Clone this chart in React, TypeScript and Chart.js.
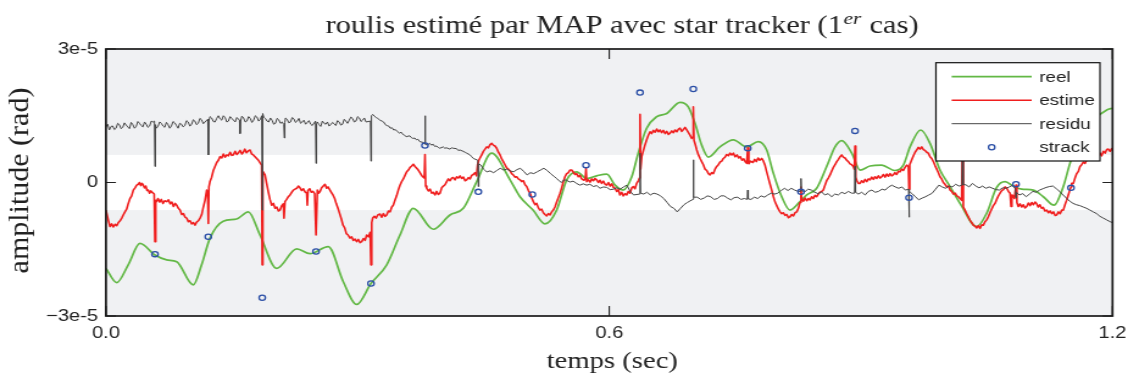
import { useEffect, useRef } from 'react';
import { Chart, registerables } from 'chart.js';

Chart.register(...registerables);

// Time in seconds, amplitudes in units of 1e-5 rad.
const reel: [number, number][] = [
  [0.0, -1.93], [0.0128, -2.25], [0.0265, -1.85], [0.0405, -1.37], [0.0584, -1.63], [0.0724, -1.74],
  [0.0843, -1.78], [0.1041, -2.3], [0.114, -1.85], [0.124, -1.25], [0.1398, -0.87], [0.1558, -0.82],
  [0.1697, -0.66], [0.1836, -1.18], [0.2035, -1.93], [0.2274, -1.49], [0.2432, -1.6], [0.265, -1.44],
  [0.2829, -2.23], [0.2989, -2.74], [0.3159, -2.27], [0.3347, -1.85], [0.3505, -1.18], [0.3664, -0.58],
  [0.3902, -1.05], [0.4101, -0.73], [0.426, -0.58], [0.442, 0.02], [0.4598, 0.66], [0.4817, 0.06],
  [0.4936, -0.32], [0.5091, -0.62], [0.5234, -0.93], [0.5373, -0.62], [0.5493, 0.06], [0.5612, 0.24],
  [0.5731, 0.09], [0.585, 0.15], [0.597, 0.19], [0.6069, -0.06], [0.6167, -0.17], [0.6268, 0.13],
  [0.6346, 0.66], [0.6446, 1.22], [0.6566, 1.48], [0.6685, 1.55], [0.6844, 1.8], [0.6942, 1.7],
  [0.7022, 1.33], [0.7102, 0.84], [0.7181, 0.57], [0.732, 0.8], [0.7479, 0.96], [0.7639, 0.8],
  [0.7777, 0.92], [0.7877, 0.73], [0.7956, 0.21], [0.8056, -0.32], [0.8155, -0.62], [0.8274, -0.43],
  [0.8354, -0.28], [0.8473, -0.13], [0.8592, 0.36], [0.8692, 0.8], [0.8771, 0.94], [0.8891, 0.66],
  [0.899, 0.28], [0.9109, 0.37], [0.9248, 0.39], [0.9407, 0.27], [0.9506, 0.39], [0.9586, 0.8],
  [0.9713, 1.18], [0.9824, 0.88], [0.9943, 0.28], [1.0063, -0.09], [1.0182, -0.47], [1.0381, -0.99],
  [1.05, -0.69], [1.0619, -0.11], [1.0718, 0.02], [1.0817, -0.08], [1.0917, -0.15], [1.1056, -0.17],
  [1.1175, -0.32], [1.1303, -0.51], [1.1413, -0.09], [1.1493, 0.43], [1.1612, 1.04], [1.1771, 1.4],
  [1.1931, 1.63], [1.2, 1.67],
];

const estime: [number, number][] = [
  [0.0, -0.62], [0.0008, -0.69], [0.0028, -0.85], [0.0048, -0.99], [0.0068, -0.93], [0.0088, -1.0],
  [0.0108, -0.94], [0.0128, -0.97], [0.0148, -0.9], [0.0168, -0.86], [0.0188, -0.8], [0.0206, -0.73],
  [0.0226, -0.66], [0.0246, -0.6], [0.0266, -0.47], [0.0286, -0.36], [0.0306, -0.3], [0.0326, -0.17],
  [0.0346, -0.12], [0.0366, -0.06], [0.0385, -0.04], [0.04, 0.0], [0.0415, -0.07], [0.043, -0.02],
  [0.0445, -0.06], [0.046, -0.12], [0.0475, -0.08], [0.049, -0.18], [0.0504, -0.17], [0.052, -0.24],
  [0.0535, -0.19], [0.0545, -0.21], [0.0575, -0.26], [0.0584, -1.33], [0.0593, -0.4], [0.0604, -0.43],
  [0.062, -0.36], [0.064, -0.44], [0.066, -0.38], [0.068, -0.47], [0.07, -0.41], [0.0724, -0.43],
  [0.0745, -0.39], [0.0765, -0.48], [0.0785, -0.44], [0.0805, -0.54], [0.0825, -0.47], [0.0843, -0.51],
  [0.0863, -0.58], [0.0883, -0.62], [0.0903, -0.72], [0.0923, -0.7], [0.0943, -0.78], [0.0962, -0.8],
  [0.0982, -0.88], [0.1002, -0.86], [0.1022, -0.93], [0.1042, -0.9], [0.1061, -0.96], [0.1081, -0.89],
  [0.1101, -0.86], [0.1121, -0.8], [0.1141, -0.72], [0.1161, -0.55], [0.1181, -0.4], [0.1201, -0.17],
  [0.1213, -0.28], [0.122, -0.92], [0.1227, -0.1], [0.124, 0.02], [0.126, 0.12], [0.128, 0.27],
  [0.13, 0.36], [0.132, 0.45], [0.134, 0.5], [0.1359, 0.58], [0.138, 0.55], [0.14, 0.64],
  [0.142, 0.57], [0.144, 0.62], [0.146, 0.6], [0.148, 0.68], [0.15, 0.61], [0.1518, 0.62],
  [0.154, 0.7], [0.156, 0.63], [0.158, 0.67], [0.16, 0.72], [0.162, 0.64], [0.1637, 0.68],
  [0.1655, 0.75], [0.1675, 0.67], [0.1695, 0.71], [0.1717, 0.73], [0.1737, 0.64], [0.1757, 0.62],
  [0.1777, 0.58], [0.1797, 0.54], [0.1817, 0.5], [0.1837, 0.44], [0.1856, 0.39], [0.1863, -1.85],
  [0.187, 0.25], [0.1896, 0.17], [0.1915, -0.02], [0.1935, -0.21], [0.1955, -0.38], [0.1976, -0.51],
  [0.1996, -0.47], [0.2016, -0.58], [0.2036, -0.55], [0.2056, -0.64], [0.2075, -0.62], [0.2095, -0.52],
  [0.2115, -0.48], [0.2122, -0.8], [0.2134, -0.43], [0.2154, -0.38], [0.2174, -0.32], [0.2194, -0.28],
  [0.2214, -0.22], [0.2234, -0.17], [0.2254, -0.15], [0.2274, -0.13], [0.2293, -0.08], [0.2313, -0.12],
  [0.2333, -0.18], [0.2353, -0.14], [0.2373, -0.21], [0.2393, -0.24], [0.24, -0.51], [0.2408, -0.18],
  [0.2428, -0.14], [0.2448, -0.22], [0.2468, -0.2], [0.2488, -0.25], [0.2504, -1.18], [0.252, -0.17],
  [0.2535, -0.24], [0.2551, -0.21], [0.2571, -0.12], [0.2591, -0.08], [0.2611, -0.04], [0.263, -0.13],
  [0.2647, -0.1], [0.2667, -0.16], [0.2686, -0.22], [0.2706, -0.28], [0.2726, -0.36], [0.2746, -0.48],
  [0.2766, -0.58], [0.2786, -0.7], [0.2806, -0.82], [0.2826, -0.96], [0.2846, -1.02], [0.2866, -1.15],
  [0.2886, -1.18], [0.2909, -1.25], [0.2929, -1.22], [0.2949, -1.3], [0.2969, -1.27], [0.2989, -1.33],
  [0.3009, -1.28], [0.3029, -1.35], [0.3049, -1.33], [0.3069, -1.26], [0.3089, -1.3], [0.3108, -1.18],
  [0.313, -1.22], [0.315, -1.12], [0.3159, -1.85], [0.3168, -0.9], [0.318, -0.8], [0.32, -0.76],
  [0.322, -0.8], [0.324, -0.73], [0.3267, -0.71], [0.3287, -0.78], [0.3307, -0.7], [0.3327, -0.76],
  [0.3347, -0.73], [0.3367, -0.64], [0.3387, -0.66], [0.3407, -0.55], [0.3425, -0.51], [0.3445, -0.4],
  [0.3465, -0.3], [0.3485, -0.17], [0.3505, -0.06], [0.3525, 0.02], [0.3545, 0.08], [0.3565, 0.16],
  [0.3585, 0.24], [0.3605, 0.28], [0.3625, 0.34], [0.3645, 0.37], [0.3664, 0.41], [0.3684, 0.36],
  [0.3704, 0.32], [0.3723, 0.28], [0.3743, 0.22], [0.3763, 0.16], [0.3776, 0.13], [0.3795, 0.1],
  [0.3803, 0.63], [0.3811, -0.08], [0.3824, -0.13], [0.3844, -0.19], [0.3864, -0.15], [0.3884, -0.24],
  [0.3902, -0.22], [0.3922, -0.28], [0.3942, -0.2], [0.3962, -0.27], [0.3982, -0.24], [0.4002, -0.12],
  [0.4022, -0.08], [0.4042, -0.05], [0.4062, 0.02], [0.4082, 0.08], [0.4102, 0.04], [0.4122, 0.1],
  [0.4141, 0.11], [0.4161, 0.06], [0.4181, 0.13], [0.4201, 0.1], [0.4221, 0.15], [0.4241, 0.09],
  [0.4261, 0.12], [0.4281, 0.04], [0.43, 0.06], [0.432, 0.11], [0.434, 0.08], [0.436, 0.16],
  [0.4379, 0.18], [0.4399, 0.22], [0.4417, 0.15], [0.443, 0.4], [0.4445, 0.5], [0.4459, 0.55],
  [0.4479, 0.62], [0.4499, 0.7], [0.4519, 0.75], [0.4539, 0.8], [0.4559, 0.78], [0.4579, 0.85],
  [0.4598, 0.88], [0.4618, 0.84], [0.4638, 0.82], [0.4658, 0.77], [0.4678, 0.68], [0.4698, 0.62],
  [0.4718, 0.53], [0.4737, 0.47], [0.4757, 0.4], [0.4777, 0.33], [0.4797, 0.3], [0.4817, 0.26],
  [0.4837, 0.2], [0.4856, 0.17], [0.4876, 0.12], [0.4896, 0.13], [0.4916, 0.08], [0.4936, 0.06],
  [0.4956, 0.02], [0.4976, 0.04], [0.4996, -0.05], [0.5016, -0.09], [0.5036, -0.18], [0.5056, -0.24],
  [0.5076, -0.35], [0.5095, -0.43], [0.5115, -0.5], [0.5135, -0.47], [0.5155, -0.57], [0.5174, -0.62],
  [0.5194, -0.6], [0.5214, -0.68], [0.5234, -0.72], [0.5254, -0.75], [0.5274, -0.7], [0.5294, -0.73],
  [0.5314, -0.66], [0.5333, -0.62], [0.5353, -0.55], [0.5373, -0.44], [0.5393, -0.34], [0.5413, -0.24],
  [0.5433, -0.12], [0.5453, 0.02], [0.5472, 0.13], [0.5492, 0.2], [0.5512, 0.22], [0.5532, 0.28],
  [0.5552, 0.28], [0.5572, 0.23], [0.5592, 0.18], [0.5612, 0.2], [0.5631, 0.13], [0.5651, 0.16],
  [0.5671, 0.08], [0.5699, 0.05], [0.5715, 0.09], [0.5723, 0.32], [0.5731, 0.02], [0.5751, 0.06],
  [0.5771, 0.01], [0.5791, 0.08], [0.5811, 0.04], [0.5831, 0.09], [0.585, 0.06], [0.587, 0.0],
  [0.589, 0.05], [0.591, -0.02], [0.593, 0.03], [0.595, -0.04], [0.597, -0.06], [0.599, 0.0],
  [0.601, -0.08], [0.603, -0.03], [0.605, -0.11], [0.6069, -0.13], [0.6089, -0.2], [0.6109, -0.16],
  [0.6128, -0.28], [0.6148, -0.22], [0.6168, -0.3], [0.6188, -0.25], [0.6208, -0.28], [0.6228, -0.2],
  [0.6248, -0.24], [0.6268, -0.12], [0.6287, -0.09], [0.6307, -0.14], [0.6327, -0.02], [0.635, 0.05],
  [0.636, 0.1], [0.6367, 1.53], [0.6374, 0.3], [0.6387, 0.58], [0.6407, 0.72], [0.6427, 0.85],
  [0.6446, 0.96], [0.6466, 1.06], [0.6486, 1.14], [0.6506, 1.1], [0.6526, 1.17], [0.6546, 1.13],
  [0.6566, 1.2], [0.6586, 1.14], [0.6605, 1.18], [0.6625, 1.12], [0.6645, 1.17], [0.6665, 1.1],
  [0.6685, 1.15], [0.6705, 1.08], [0.6725, 1.11], [0.6745, 1.16], [0.6765, 1.12], [0.6785, 1.18],
  [0.6805, 1.14], [0.6825, 1.2], [0.6844, 1.22], [0.6864, 1.15], [0.6884, 1.19], [0.6904, 1.24],
  [0.6924, 1.18], [0.6944, 1.12], [0.6964, 1.06], [0.6983, 0.99], [0.6995, 1.02], [0.7002, 1.7],
  [0.701, 0.95], [0.7025, 0.86], [0.7043, 0.73], [0.7063, 0.62], [0.7083, 0.54], [0.7102, 0.47],
  [0.7122, 0.4], [0.7142, 0.3], [0.7162, 0.27], [0.7182, 0.2], [0.7201, 0.17], [0.7221, 0.22],
  [0.7241, 0.2], [0.7261, 0.3], [0.7281, 0.36], [0.7301, 0.4], [0.7321, 0.46], [0.7341, 0.48],
  [0.736, 0.54], [0.738, 0.57], [0.74, 0.63], [0.742, 0.6], [0.744, 0.66], [0.746, 0.62],
  [0.748, 0.66], [0.75, 0.58], [0.7523, 0.62], [0.7543, 0.55], [0.7563, 0.58], [0.7583, 0.5],
  [0.7603, 0.53], [0.7623, 0.46], [0.7639, 0.43], [0.7651, 0.78], [0.7663, 0.42], [0.7683, 0.48],
  [0.7714, 0.45], [0.7734, 0.52], [0.7754, 0.47], [0.7774, 0.55], [0.7794, 0.5], [0.7818, 0.54],
  [0.7838, 0.48], [0.7858, 0.38], [0.7877, 0.24], [0.7897, 0.1], [0.7917, -0.04], [0.7937, -0.17],
  [0.7957, -0.32], [0.7977, -0.44], [0.7997, -0.52], [0.8017, -0.6], [0.8036, -0.66], [0.8056, -0.7],
  [0.8076, -0.68], [0.8096, -0.74], [0.8116, -0.72], [0.8136, -0.79], [0.8155, -0.77], [0.8175, -0.72],
  [0.8195, -0.75], [0.8215, -0.68], [0.8235, -0.66], [0.8255, -0.58], [0.8274, -0.45], [0.8286, -0.1],
  [0.8294, -0.36], [0.8314, -0.42], [0.8334, -0.35], [0.8354, -0.41], [0.8374, -0.36], [0.8393, -0.39],
  [0.8413, -0.32], [0.8433, -0.36], [0.8453, -0.29], [0.8473, -0.32], [0.8493, -0.26], [0.8513, -0.22],
  [0.8533, -0.2], [0.8552, -0.17], [0.8572, -0.06], [0.8592, 0.04], [0.8612, 0.1], [0.8632, 0.17],
  [0.8652, 0.26], [0.8672, 0.34], [0.8692, 0.4], [0.8712, 0.47], [0.8732, 0.52], [0.8752, 0.58],
  [0.8771, 0.62], [0.8791, 0.57], [0.8811, 0.55], [0.8831, 0.5], [0.885, 0.47], [0.887, 0.42],
  [0.889, 0.4], [0.891, 0.36], [0.8922, 0.3], [0.893, 0.82], [0.8938, 0.12], [0.895, 0.05],
  [0.897, -0.02], [0.899, -0.02], [0.901, 0.04], [0.903, 0.0], [0.905, 0.07], [0.907, 0.02],
  [0.909, 0.08], [0.9109, 0.06], [0.9129, 0.12], [0.9149, 0.07], [0.9169, 0.13], [0.9189, 0.09],
  [0.9209, 0.15], [0.9229, 0.1], [0.9248, 0.13], [0.9268, 0.18], [0.9288, 0.12], [0.9308, 0.19],
  [0.9328, 0.14], [0.9348, 0.2], [0.9368, 0.15], [0.9386, 0.17], [0.9406, 0.22], [0.9426, 0.18],
  [0.9446, 0.25], [0.9466, 0.24], [0.9486, 0.3], [0.9506, 0.27], [0.9526, 0.34], [0.9546, 0.39],
  [0.9566, 0.36], [0.9574, -0.15], [0.9582, 0.4], [0.9606, 0.51], [0.9626, 0.6], [0.9646, 0.68],
  [0.9665, 0.73], [0.9685, 0.79], [0.9705, 0.75], [0.9725, 0.8], [0.9745, 0.74], [0.9765, 0.72],
  [0.9785, 0.68], [0.9804, 0.66], [0.9824, 0.58], [0.9844, 0.54], [0.9864, 0.47], [0.9884, 0.38],
  [0.9904, 0.3], [0.9924, 0.22], [0.9943, 0.13], [0.9963, 0.08], [0.9983, 0.0], [1.0003, -0.04],
  [1.0023, -0.1], [1.0043, -0.08], [1.0063, -0.17], [1.0083, -0.2], [1.0103, -0.26], [1.0123, -0.24],
  [1.0143, -0.3], [1.0162, -0.32], [1.0182, -0.36], [1.0202, -0.4], [1.0212, 1.4], [1.0221, -0.55],
  [1.0241, -0.62], [1.0261, -0.7], [1.0281, -0.77], [1.0301, -0.85], [1.0321, -0.9], [1.0341, -0.96],
  [1.0361, -0.98], [1.0381, -1.02], [1.0401, -0.97], [1.0421, -1.03], [1.0441, -0.95], [1.046, -0.96],
  [1.048, -0.88], [1.05, -0.84], [1.0519, -0.77], [1.0539, -0.68], [1.0559, -0.6], [1.0579, -0.52],
  [1.0599, -0.47], [1.0619, -0.38], [1.0639, -0.3], [1.0659, -0.24], [1.0679, -0.18], [1.0699, -0.16],
  [1.0719, -0.1], [1.0739, -0.13], [1.0759, -0.2], [1.0779, -0.24], [1.079, -0.54], [1.08, -0.28],
  [1.0814, -0.3], [1.083, -0.36], [1.0849, -0.06], [1.086, -0.45], [1.0877, -0.54], [1.0897, -0.48],
  [1.0917, -0.55], [1.0937, -0.5], [1.0957, -0.57], [1.0977, -0.54], [1.0997, -0.46], [1.1017, -0.52],
  [1.1037, -0.45], [1.1057, -0.5], [1.1077, -0.44], [1.1094, -0.47], [1.1114, -0.55], [1.1134, -0.5],
  [1.1154, -0.58], [1.1174, -0.56], [1.1194, -0.64], [1.1216, -0.62], [1.1236, -0.68], [1.1256, -0.64],
  [1.1276, -0.7], [1.1296, -0.66], [1.1316, -0.74], [1.1335, -0.73], [1.1355, -0.66], [1.1375, -0.7],
  [1.1395, -0.62], [1.1413, -0.62], [1.1433, -0.5], [1.1453, -0.4], [1.1473, -0.28], [1.1493, -0.16],
  [1.1505, -0.1], [1.1513, -0.02], [1.1533, -0.02], [1.1553, 0.1], [1.1573, 0.2], [1.1593, 0.25],
  [1.1612, 0.36], [1.1632, 0.4], [1.1652, 0.46], [1.1672, 0.43], [1.1693, 0.51], [1.1713, 0.55],
  [1.1733, 0.5], [1.1753, 0.58], [1.1773, 0.55], [1.1793, 0.62], [1.1813, 0.58], [1.1833, 0.66],
  [1.1851, 0.66], [1.1871, 0.6], [1.1891, 0.7], [1.1911, 0.66], [1.1931, 0.74], [1.195, 0.75],
  [1.197, 0.7], [1.199, 0.76], [1.2, 0.72],
];

const residu: [number, number][] = [
  [0.0, 1.25], [0.002, 1.31], [0.004, 1.18], [0.006, 1.26], [0.008, 1.27], [0.010, 1.19], [0.012, 1.22],
  [0.014, 1.33], [0.016, 1.3], [0.018, 1.21], [0.02, 1.24], [0.022, 1.34], [0.024, 1.29], [0.026, 1.25],
  [0.028, 1.21], [0.030, 1.35], [0.032, 1.3], [0.034, 1.22], [0.036, 1.26], [0.038, 1.37], [0.04, 1.33],
  [0.042, 1.28], [0.044, 1.25], [0.046, 1.36], [0.048, 1.31], [0.050, 1.24], [0.052, 1.27], [0.054, 1.38],
  [0.056, 1.36], [0.0578, 1.38], [0.0584, 0.36], [0.059, 1.3], [0.060, 1.22], [0.062, 1.26], [0.064, 1.36],
  [0.066, 1.33], [0.068, 1.27], [0.07, 1.24], [0.072, 1.35], [0.074, 1.3], [0.076, 1.22], [0.078, 1.27],
  [0.080, 1.37], [0.082, 1.34], [0.084, 1.28], [0.086, 1.22], [0.088, 1.33], [0.09, 1.31], [0.092, 1.25],
  [0.094, 1.28], [0.096, 1.39], [0.098, 1.36], [0.100, 1.27], [0.102, 1.3], [0.104, 1.41], [0.106, 1.38],
  [0.108, 1.3], [0.11, 1.33], [0.112, 1.44], [0.114, 1.41], [0.116, 1.32], [0.118, 1.36], [0.1214, 1.42],
  [0.122, 0.62], [0.1226, 1.38], [0.124, 1.48], [0.126, 1.45], [0.128, 1.37], [0.13, 1.36], [0.132, 1.44],
  [0.134, 1.5], [0.136, 1.43], [0.138, 1.4], [0.140, 1.5], [0.142, 1.46], [0.144, 1.36], [0.146, 1.38],
  [0.148, 1.48], [0.15, 1.44], [0.152, 1.4], [0.154, 1.36], [0.156, 1.46], [0.1592, 1.4], [0.1598, 1.1],
  [0.1604, 1.38], [0.162, 1.49], [0.164, 1.45], [0.166, 1.36], [0.168, 1.38], [0.170, 1.48], [0.172, 1.44],
  [0.174, 1.35], [0.176, 1.4], [0.178, 1.5], [0.18, 1.47], [0.182, 1.38], [0.184, 1.42], [0.1857, 1.5],
  [0.1863, -0.62], [0.1869, 1.55], [0.188, 1.47], [0.19, 1.44], [0.192, 1.38], [0.194, 1.36], [0.196, 1.45],
  [0.198, 1.4], [0.200, 1.31], [0.202, 1.33], [0.204, 1.44], [0.206, 1.41], [0.208, 1.33], [0.21, 1.36],
  [0.212, 1.3], [0.2126, 1.0], [0.2132, 1.35], [0.214, 1.45], [0.216, 1.42], [0.218, 1.34], [0.22, 1.36],
  [0.222, 1.46], [0.224, 1.43], [0.226, 1.35], [0.228, 1.38], [0.230, 1.44], [0.232, 1.33], [0.234, 1.36],
  [0.236, 1.4], [0.238, 1.31], [0.24, 1.35], [0.242, 1.39], [0.244, 1.31], [0.246, 1.28], [0.2498, 1.38],
  [0.2504, 0.43], [0.251, 1.33], [0.252, 1.36], [0.254, 1.3], [0.256, 1.26], [0.258, 1.38], [0.260, 1.33],
  [0.262, 1.31], [0.264, 1.36], [0.266, 1.27], [0.268, 1.3], [0.27, 1.35], [0.272, 1.32], [0.274, 1.28],
  [0.276, 1.39], [0.278, 1.36], [0.28, 1.29], [0.282, 1.31], [0.284, 1.42], [0.286, 1.38], [0.288, 1.33],
  [0.29, 1.4], [0.292, 1.47], [0.294, 1.44], [0.296, 1.36], [0.298, 1.38], [0.300, 1.48], [0.302, 1.45],
  [0.304, 1.37], [0.306, 1.4], [0.308, 1.45], [0.31, 1.36], [0.3153, 1.38], [0.3159, 0.48], [0.3165, 1.5],
  [0.318, 1.53], [0.320, 1.49], [0.322, 1.46], [0.324, 1.44], [0.3267, 1.4], [0.329, 1.38], [0.331, 1.36],
  [0.333, 1.3], [0.335, 1.28], [0.337, 1.27], [0.339, 1.22], [0.341, 1.23], [0.343, 1.18], [0.345, 1.19],
  [0.347, 1.15], [0.35, 1.11], [0.352, 1.13], [0.354, 1.08], [0.356, 1.06], [0.358, 1.03], [0.362, 1.05],
  [0.364, 1.01], [0.366, 0.99], [0.368, 1.0], [0.37, 0.96], [0.372, 0.97], [0.374, 0.92], [0.378, 0.9],
  [0.3797, 0.88], [0.3803, 1.5], [0.3809, 0.86], [0.383, 0.84], [0.386, 0.88], [0.388, 0.84], [0.39, 0.86],
  [0.392, 0.81], [0.394, 0.82], [0.396, 0.79], [0.398, 0.77], [0.402, 0.8], [0.404, 0.77], [0.406, 0.78],
  [0.41, 0.75], [0.412, 0.78], [0.414, 0.77], [0.418, 0.76], [0.42, 0.72], [0.422, 0.73], [0.426, 0.7],
  [0.428, 0.68], [0.43, 0.66], [0.434, 0.62], [0.436, 0.58], [0.438, 0.54], [0.4433, 0.5], [0.4439, -0.09],
  [0.4445, 0.42], [0.447, 0.39], [0.45, 0.3], [0.452, 0.27], [0.454, 0.24], [0.458, 0.26], [0.462, 0.22],
  [0.466, 0.27], [0.47, 0.32], [0.474, 0.28], [0.478, 0.3], [0.482, 0.26], [0.486, 0.24], [0.49, 0.29],
  [0.494, 0.32], [0.498, 0.25], [0.502, 0.17], [0.506, 0.22], [0.51, 0.2], [0.514, 0.24], [0.518, 0.28],
  [0.522, 0.32], [0.526, 0.27], [0.53, 0.2], [0.534, 0.14], [0.5373, 0.09], [0.54, 0.04], [0.543, 0.0],
  [0.546, 0.06], [0.549, 0.05], [0.553, 0.01], [0.557, 0.03], [0.561, -0.02], [0.565, -0.06],
  [0.569, -0.03], [0.573, -0.06], [0.577, -0.04], [0.581, -0.09], [0.585, -0.07], [0.589, -0.13],
  [0.593, -0.1], [0.597, -0.11], [0.601, -0.16], [0.605, -0.15], [0.609, -0.12], [0.613, -0.15],
  [0.617, -0.1], [0.621, -0.06], [0.625, -0.2], [0.629, -0.28], [0.6361, -0.26], [0.6367, 0.66],
  [0.6373, -0.24], [0.641, -0.26], [0.645, -0.22], [0.649, -0.28], [0.653, -0.24], [0.657, -0.26],
  [0.661, -0.3], [0.665, -0.36], [0.669, -0.45], [0.673, -0.54], [0.677, -0.58], [0.681, -0.66],
  [0.685, -0.58], [0.689, -0.5], [0.693, -0.45], [0.6996, -0.38], [0.7002, 0.51], [0.7008, -0.33],
  [0.705, -0.33], [0.709, -0.38], [0.713, -0.35], [0.717, -0.3], [0.721, -0.32], [0.725, -0.38],
  [0.729, -0.36], [0.733, -0.3], [0.737, -0.3], [0.741, -0.35], [0.745, -0.39], [0.749, -0.34],
  [0.753, -0.33], [0.757, -0.38], [0.761, -0.36], [0.7645, -0.38], [0.7651, -0.17], [0.7657, -0.37],
  [0.769, -0.38], [0.773, -0.33], [0.777, -0.36], [0.781, -0.3], [0.785, -0.33], [0.789, -0.28],
  [0.793, -0.24], [0.797, -0.26], [0.801, -0.24], [0.805, -0.18], [0.809, -0.13], [0.813, -0.18],
  [0.817, -0.13], [0.821, -0.17], [0.825, -0.2], [0.828, -0.2], [0.8286, 0.09], [0.8292, -0.18],
  [0.833, -0.21], [0.837, -0.15], [0.841, -0.17], [0.845, -0.22], [0.849, -0.25], [0.853, -0.21],
  [0.857, -0.28], [0.861, -0.25], [0.865, -0.32], [0.869, -0.26], [0.873, -0.28], [0.877, -0.22],
  [0.881, -0.25], [0.885, -0.2], [0.889, -0.24], [0.8924, -0.24], [0.893, 0.36], [0.8936, -0.22],
  [0.897, -0.26], [0.901, -0.22], [0.905, -0.28], [0.909, -0.2], [0.913, -0.17], [0.917, -0.22],
  [0.921, -0.2], [0.925, -0.15], [0.929, -0.17], [0.933, -0.1], [0.937, -0.06], [0.941, -0.1],
  [0.945, -0.13], [0.949, -0.1], [0.953, -0.17], [0.9568, -0.15], [0.9574, -0.78], [0.958, -0.2],
  [0.961, -0.25], [0.965, -0.32], [0.969, -0.39], [0.973, -0.35], [0.977, -0.32], [0.981, -0.28],
  [0.985, -0.24], [0.989, -0.15], [0.993, -0.06], [0.997, -0.1], [1.001, -0.13], [1.005, -0.08],
  [1.009, -0.1], [1.013, -0.04], [1.017, -0.08], [1.0206, -0.06], [1.0212, 1.4], [1.0218, -0.05],
  [1.025, -0.05], [1.029, -0.1], [1.033, -0.02], [1.037, -0.08], [1.041, -0.12], [1.045, -0.08],
  [1.049, -0.13], [1.053, -0.1], [1.057, -0.13], [1.061, -0.16], [1.065, -0.17], [1.069, -0.12],
  [1.073, -0.13], [1.077, -0.1], [1.081, -0.06], [1.0843, -0.15], [1.0849, -0.35], [1.0855, -0.22],
  [1.089, -0.28], [1.093, -0.25], [1.097, -0.32], [1.101, -0.26], [1.105, -0.2], [1.109, -0.22],
  [1.113, -0.17], [1.117, -0.14], [1.121, -0.11], [1.125, -0.09], [1.129, -0.08], [1.133, -0.14],
  [1.137, -0.2], [1.141, -0.28], [1.145, -0.35], [1.149, -0.42], [1.153, -0.47], [1.157, -0.5],
  [1.161, -0.52], [1.165, -0.55], [1.169, -0.58], [1.173, -0.62], [1.177, -0.66], [1.181, -0.7],
  [1.185, -0.76], [1.189, -0.8], [1.193, -0.84], [1.197, -0.88], [1.2, -0.9],
];

const strack: [number, number][] = [
  [0.0584, -1.61], [0.122, -1.22], [0.1863, -2.59], [0.2504, -1.55], [0.3159, -2.27], [0.3803, 0.83],
  [0.4439, -0.21], [0.5083, -0.27], [0.5723, 0.39], [0.6367, 2.02], [0.7002, 2.1], [0.7651, 0.77],
  [0.8286, -0.21], [0.893, 1.16], [0.9574, -0.34], [1.0212, 1.3], [1.0849, -0.04], [1.1505, -0.12],
];

const seriesLabels = ['reel', 'estime', 'residu', 'strack'];
const xTicks = [0, 0.6, 1.2];
const xTickLabels = ['0.0', '0.6', '1.2'];
const yTicks = [-3, 0, 3];
const yTickLabels = ['\u22123e-5', '0', '3e-5'];
// half width of the white band around zero (1e-5 rad)
const bandHalfWidth = 0.62;

const titleParts = ['roulis estimé par MAP avec star tracker (1', 'er', ' cas)'];
const xTitle = 'temps (sec)';
const yTitle = 'amplitude (rad)';

// drawing buffer size; the canvas is displayed wider than its buffer
const W = 925;
const H = 377;
const SANS = '"Liberation Sans", Arial, sans-serif';
const SERIF = '"Liberation Serif", "Times New Roman", serif';

const toXY = (pts: [number, number][]) => pts.map(([x, y]) => ({ x, y }));

const bandPlugin = {
  id: 'band',
  beforeDatasetsDraw(chart: any) {
    const { ctx, chartArea: a, scales } = chart;
    const y = scales.y;
    ctx.save();
    ctx.fillStyle = '#f0f1f3';
    ctx.fillRect(a.left, a.top, a.right - a.left, a.bottom - a.top);
    const top = y.getPixelForValue(bandHalfWidth);
    const bot = y.getPixelForValue(-bandHalfWidth);
    ctx.fillStyle = '#ffffff';
    ctx.fillRect(a.left, top, a.right - a.left, bot - top);
    ctx.restore();
  },
};

const framePlugin = {
  id: 'frame',
  afterDatasetsDraw(chart: any) {
    const { ctx, chartArea: a, scales } = chart;
    const x = scales.x;
    const y = scales.y;
    ctx.save();
    // inward tick marks
    ctx.strokeStyle = '#222';
    ctx.lineWidth = 1.1;
    ctx.beginPath();
    for (const v of yTicks) {
      const py = y.getPixelForValue(v);
      ctx.moveTo(a.left, py);
      ctx.lineTo(a.left + 8.2, py);
      ctx.moveTo(a.right, py);
      ctx.lineTo(a.right - 8.2, py);
    }
    for (const v of xTicks) {
      const px = x.getPixelForValue(v);
      ctx.moveTo(px, a.top);
      ctx.lineTo(px, a.top + 10);
      ctx.moveTo(px, a.bottom);
      ctx.lineTo(px, a.bottom - 10);
    }
    ctx.stroke();
    // axes box
    ctx.strokeStyle = '#1a1a1a';
    ctx.lineWidth = 1.7;
    ctx.strokeRect(a.left, a.top, a.right - a.left, a.bottom - a.top);

    // legend box
    const right = a.right - 10.3;
    const left = right - 134.5;
    const top = a.top + 13.7;
    const bottom = top + 98.3;
    ctx.fillStyle = '#ffffff';
    ctx.fillRect(left, top, right - left, bottom - top);
    ctx.strokeStyle = '#111';
    ctx.lineWidth = 1.2;
    ctx.strokeRect(left, top, right - left, bottom - top);
    const lx0 = left + 12.9;
    const lx1 = left + 78.5;
    const tx = left + 84.7;
    ctx.font = `15.5px ${SANS}`;
    ctx.textAlign = 'left';
    ctx.textBaseline = 'middle';
    chart.data.datasets.forEach((ds: any, i: number) => {
      const ry = top + 14 + i * 23.5;
      ctx.beginPath();
      ctx.strokeStyle = ds.borderColor;
      ctx.lineWidth = ds.borderWidth;
      if (ds.showLine === false) {
        ctx.arc((lx0 + lx1) / 2, ry, ds.pointRadius, 0, Math.PI * 2);
      } else {
        ctx.moveTo(lx0, ry);
        ctx.lineTo(lx1, ry);
      }
      ctx.stroke();
      ctx.fillStyle = '#222';
      ctx.fillText(ds.label, tx, ry + 1);
    });
    ctx.restore();
  },
};

const textPlugin = {
  id: 'texts',
  afterDraw(chart: any) {
    const { ctx, chartArea: a } = chart;
    ctx.save();
    ctx.fillStyle = '#222';
    ctx.textBaseline = 'alphabetic';
    ctx.textAlign = 'left';
    // title with superscript ordinal
    const mainFont = `25px ${SERIF}`;
    const supFont = `italic 17.5px ${SERIF}`;
    ctx.font = mainFont;
    const w0 = ctx.measureText(titleParts[0]).width;
    const w2 = ctx.measureText(titleParts[2]).width;
    ctx.font = supFont;
    const w1 = ctx.measureText(titleParts[1]).width + 1;
    const cx = (a.left + a.right) / 2 + 10.5;
    let tx = cx - (w0 + w1 + w2) / 2;
    const base = 33.3;
    ctx.font = mainFont;
    ctx.fillText(titleParts[0], tx, base);
    tx += w0;
    ctx.font = supFont;
    ctx.fillText(titleParts[1], tx + 0.5, base - 9.5);
    tx += w1;
    ctx.font = mainFont;
    ctx.fillText(titleParts[2], tx, base);

    // x axis title
    ctx.font = `23.5px ${SERIF}`;
    ctx.textAlign = 'center';
    ctx.fillText(xTitle, (a.left + a.right) / 2 + 2.5, 368);

    // y axis title
    ctx.translate(16.4, (a.top + a.bottom) / 2 - 2);
    ctx.rotate(-Math.PI / 2);
    ctx.scale(1.25, 1);
    ctx.font = `24px ${SERIF}`;
    ctx.textBaseline = 'middle';
    ctx.fillText(yTitle, 0, 0);
    ctx.restore();
  },
};

export default function App() {
  const ref = useRef<HTMLCanvasElement>(null);

  useEffect(() => {
    const canvas = ref.current;
    if (!canvas) return;
    const chart = new Chart(canvas, {
      type: 'line',
      data: {
        datasets: [
          {
            label: seriesLabels[0],
            data: toXY(reel),
            borderColor: '#62b845',
            borderWidth: 1.7,
            pointRadius: 0,
            cubicInterpolationMode: 'monotone',
            order: 3,
          },
          {
            label: seriesLabels[1],
            data: toXY(estime),
            borderColor: '#f01e1e',
            borderWidth: 1.6,
            pointRadius: 0,
            tension: 0,
            borderJoinStyle: 'round',
            order: 2,
          },
          {
            label: seriesLabels[2],
            data: toXY(residu),
            borderColor: '#454545',
            borderWidth: 1,
            pointRadius: 0,
            tension: 0,
            borderJoinStyle: 'round',
            order: 1,
          },
          {
            label: seriesLabels[3],
            data: toXY(strack),
            showLine: false,
            borderColor: '#2b4fa6',
            backgroundColor: 'rgba(0,0,0,0)',
            borderWidth: 1.3,
            pointRadius: 2.6,
            pointStyle: 'circle',
            order: 0,
          },
        ] as any,
      },
      options: {
        responsive: false,
        animation: false,
        devicePixelRatio: 1,
        events: [],
        layout: { padding: { left: 0, right: 12.7, top: 49, bottom: 0 } },
        plugins: {
          legend: { display: false },
          title: { display: false },
          tooltip: { enabled: false },
        },
        scales: {
          x: {
            type: 'linear',
            min: 0,
            max: 1.2,
            afterBuildTicks: (s: any) => {
              s.ticks = xTicks.map((v) => ({ value: v }));
            },
            afterFit: (s: any) => {
              s.height = 61;
              s.paddingLeft = 0;
              s.paddingRight = 0;
            },
            grid: { display: false, drawTicks: false },
            border: { display: false },
            ticks: {
              autoSkip: false,
              maxRotation: 0,
              padding: 7.5,
              color: '#222',
              font: { family: SANS, size: 16.5 },
              callback: (v: any) => xTickLabels[xTicks.indexOf(Number(v))] ?? '',
            },
          },
          y: {
            type: 'linear',
            min: -3,
            max: 3,
            afterBuildTicks: (s: any) => {
              s.ticks = yTicks.map((v) => ({ value: v }));
            },
            afterFit: (s: any) => {
              s.width = 86.9;
              s.paddingTop = 0;
              s.paddingBottom = 0;
            },
            grid: { display: false, drawTicks: false },
            border: { display: false },
            ticks: {
              autoSkip: false,
              padding: 6.5,
              color: '#222',
              font: { family: SANS, size: 16.5 },
              callback: (v: any) => yTickLabels[yTicks.indexOf(Number(v))] ?? '',
            },
          },
        },
      } as any,
      plugins: [bandPlugin, framePlugin, textPlugin],
    });
    return () => chart.destroy();
  }, []);

  return (
    <div style={{ position: 'absolute', left: 0, top: 0, width: 1128, height: 377, background: '#ffffff' }}>
      <canvas ref={ref} width={W} height={H} style={{ display: 'block', width: '1128px', height: '377px' }} />
    </div>
  );
}
